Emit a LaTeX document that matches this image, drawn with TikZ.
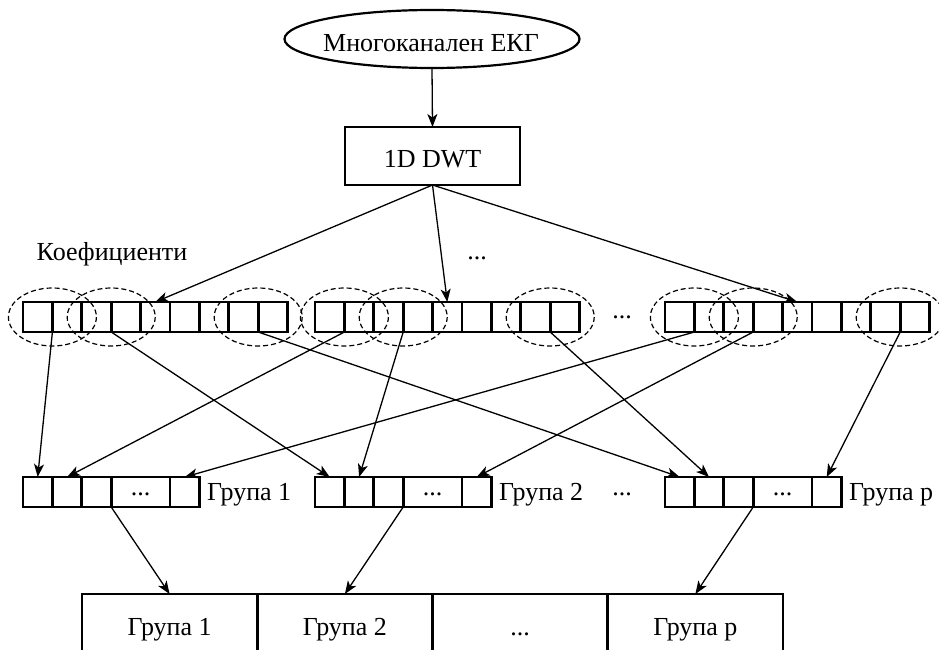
\documentclass[tikz,border=0pt]{standalone}
\usepackage{fontspec}
\setmainfont{Liberation Serif}
\usetikzlibrary{arrows.meta,shapes.geometric}
\begin{document}
\begin{tikzpicture}[x=1pt,y=-1pt,
  every node/.style={font=\fontsize{26}{30}\selectfont},
  cell/.style={draw, line width=2.8pt, minimum width=29.4pt, minimum height=30pt,
    inner sep=0pt, outer sep=0pt, anchor=north west},
  widecell/.style={cell, minimum width=58.8pt},
  bcell/.style={draw, line width=2.6pt, minimum width=175.25pt, minimum height=62pt,
    inner sep=0pt, outer sep=0pt, anchor=north west},
  grp/.style={dash pattern=on 5pt off 3pt, line width=1.2pt},
  link/.style={line width=1.3pt, -{Stealth[length=13pt,width=10pt,inset=3.5pt]}},
  txt/.style={inner sep=0pt, anchor=base}
]
\useasboundingbox (0,0) rectangle (939,650);
\clip (0,0) rectangle (939,650);

% input signal and transform
\node[draw, ellipse, line width=2.2pt, minimum width=295pt, minimum height=58pt,
  inner sep=0pt, outer sep=0pt] (ekg) at (432,39) {};
\node[txt] (ekgtext) at (431,52) {Многоканален ЕКГ};
\node[draw, line width=2.8pt, minimum width=175pt, minimum height=58pt,
  inner sep=0pt, outer sep=0pt] (dwt) at (432.5,156) {};
\node[txt] (dwttext) at (432.5,167) {1D DWT};
\draw[link] (ekg.south) -- (dwt.north);

% coefficient rows
\node[txt] (coef) at (112,260) {Коефициенти};
\node[txt] (rdots1) at (477,259.5) {...};
\node[txt] (rdots2) at (622,318.5) {...};
\foreach \r/\x in {1/23, 2/315, 3/665} {
  \foreach \i in {1,...,9} {
    \node[cell] (row\r-\i) at ({\x+(\i-1)*29.4}, 302) {};
  }
}
\foreach \r in {1,2,3} {
  \foreach \i in {1,3,8} {
    \draw[grp] (row\r-\i.east) ellipse [x radius=44, y radius=29];
  }
}

% groups
\foreach \g/\x in {1/23, 2/315, 3/665} {
  \node[cell] (g\g-1) at (\x,477) {};
  \node[cell] (g\g-2) at (\x+29.4,477) {};
  \node[cell] (g\g-3) at (\x+58.8,477) {};
  \node[widecell] (g\g-4) at (\x+88.2,477) {};
  \node[cell] (g\g-5) at (\x+147,477) {};
  \node[txt] (gd\g) at (\x+117.6,495.5) {...};
}
\node[txt, anchor=base west] (gl1) at (207,500) {Група 1};
\node[txt, anchor=base west] (gl2) at (499,500) {Група 2};
\node[txt, anchor=base west] (gl3) at (849,500) {Група p};
\node[txt] (gdots) at (622,495.5) {...};

% result table
\foreach \b in {1,...,4} {
  \node[bcell] (b\b) at ({82+(\b-1)*175.25}, 594) {};
}
\node[txt] (bt1) at (b1.center |- 0,635) {Група 1};
\node[txt] (bt2) at (b2.center |- 0,635) {Група 2};
\node[txt] (bt3) at (b3.center |- 0,635) {...};
\node[txt] (bt4) at (b4.center |- 0,635) {Група p};

% connectors
\foreach \r in {1,2,3} {
  \draw[link] (dwt.south) -- (row\r-5.north);
}
\foreach \r/\i/\g/\c in {1/1/1/1, 1/3/2/1, 1/8/3/1, 2/1/1/2, 2/3/2/2, 2/8/3/2,
                         3/1/1/5, 3/3/2/5, 3/8/3/5} {
  \draw[link] (row\r-\i.south east) -- (g\g-\c.north);
}
\foreach \g/\b in {1/1, 2/2, 3/4} {
  \draw[link] (g\g-3.south east) -- (b\b.north);
}
\end{tikzpicture}
\end{document}
